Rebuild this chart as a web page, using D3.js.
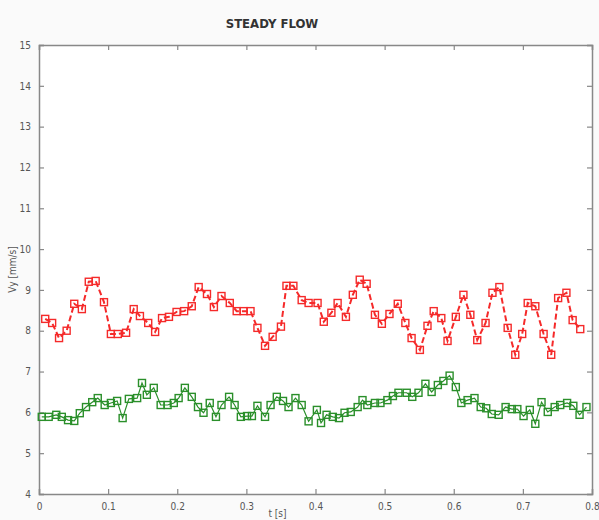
<!DOCTYPE html>
<html>
<head>
<meta charset="utf-8">
<script src="https://cdn.jsdelivr.net/npm/d3@7"></script>
<style>
  body { margin: 0; background: #fafafa; }
  svg { display: block; }
  .tick text { font-family: "Liberation Sans Narrow", "DejaVu Sans Condensed", sans-serif; font-size: 10px; fill: #555; }
</style>
</head>
<body>
<div id="chart"></div>
<script>
const xTicks = [0, 0.1, 0.2, 0.3, 0.4, 0.5, 0.6, 0.7, 0.8];
const yTicks = [4, 5, 6, 7, 8, 9, 10, 11, 12, 13, 14, 15];

// red series (dashed)
const redT = [0.009, 0.019, 0.029, 0.040, 0.051, 0.062, 0.072, 0.082, 0.094, 0.104, 0.114, 0.126,
  0.137, 0.146, 0.158, 0.168, 0.178, 0.188, 0.199, 0.210, 0.221, 0.231, 0.243, 0.253,
  0.264, 0.276, 0.286, 0.296, 0.306, 0.316, 0.327, 0.338, 0.350, 0.358, 0.368, 0.380, 0.390,
  0.403, 0.412, 0.423, 0.432, 0.444, 0.454, 0.464, 0.474, 0.486, 0.496, 0.507, 0.519,
  0.530, 0.539, 0.551, 0.562, 0.571, 0.582, 0.591, 0.603, 0.614, 0.624, 0.634, 0.646,
  0.656, 0.666, 0.678, 0.689, 0.699, 0.707, 0.718, 0.730, 0.741, 0.751, 0.763, 0.772, 0.783];
const redV = [8.29, 8.19, 7.82, 8.0, 8.66, 8.53, 9.2, 9.22, 8.7, 7.92, 7.92, 7.95,
  8.53, 8.36, 8.19, 7.97, 8.31, 8.34, 8.46, 8.48, 8.6, 9.07, 8.9, 8.58,
  8.85, 8.68, 8.48, 8.48, 8.48, 8.07, 7.63, 7.85, 8.1, 9.1, 9.1, 8.75, 8.68,
  8.68, 8.22, 8.44, 8.68, 8.34, 8.88, 9.25, 9.15, 8.39, 8.17, 8.41, 8.66,
  8.19, 7.82, 7.53, 8.12, 8.48, 8.31, 7.75, 8.34, 8.88, 8.39, 7.77, 8.19,
  8.93, 9.07, 8.07, 7.41, 7.92, 8.68, 8.6, 7.92, 7.41, 8.8, 8.93, 8.26, 8.04];

// green series (solid)
const greenT = [0.004, 0.014, 0.025, 0.033, 0.042, 0.051, 0.059, 0.068, 0.077, 0.085, 0.095, 0.104,
  0.113, 0.121, 0.130, 0.142, 0.149, 0.156, 0.166, 0.176, 0.186, 0.195, 0.202, 0.211,
  0.221, 0.230, 0.238, 0.247, 0.256, 0.264, 0.275, 0.283, 0.292, 0.301, 0.308, 0.316,
  0.327, 0.335, 0.344, 0.353, 0.361, 0.371, 0.380, 0.390, 0.402, 0.408, 0.416, 0.425,
  0.434, 0.442, 0.451, 0.461, 0.468, 0.475, 0.486, 0.494, 0.504, 0.512, 0.520, 0.532,
  0.540, 0.549, 0.559, 0.568, 0.577, 0.585, 0.594, 0.603, 0.611, 0.620, 0.630, 0.639,
  0.647, 0.655, 0.665, 0.675, 0.684, 0.692, 0.701, 0.710, 0.718, 0.727, 0.736, 0.746,
  0.754, 0.764, 0.773, 0.782, 0.792];
const greenV = [5.89, 5.89, 5.94, 5.89, 5.81, 5.79, 5.98, 6.13, 6.25, 6.35, 6.18, 6.23,
  6.28, 5.86, 6.33, 6.35, 6.72, 6.43, 6.6, 6.18, 6.18, 6.23, 6.35, 6.6,
  6.38, 6.13, 5.99, 6.23, 5.89, 6.18, 6.38, 6.18, 5.89, 5.91, 5.91, 6.16,
  5.89, 6.18, 6.38, 6.28, 6.13, 6.35, 6.18, 5.78, 6.06, 5.74, 5.94, 5.89,
  5.86, 5.99, 6.01, 6.13, 6.3, 6.18, 6.23, 6.23, 6.3, 6.4, 6.48, 6.48,
  6.38, 6.48, 6.7, 6.5, 6.67, 6.77, 6.9, 6.62, 6.23, 6.3, 6.35, 6.13,
  6.1, 5.96, 5.94, 6.13, 6.08, 6.08, 5.91, 6.06, 5.72, 6.25, 6.01, 6.13,
  6.18, 6.23, 6.16, 5.94, 6.13];

const width = 599, height = 520;
const margin = { top: 45, right: 7, bottom: 26, left: 39 };
const w = width - margin.left - margin.right;
const h = height - margin.top - margin.bottom;
const font = '"Liberation Sans Narrow", "DejaVu Sans Condensed", sans-serif';

const svg = d3.select('#chart').append('svg')
    .attr('width', width)
    .attr('height', height);

const g = svg.append('g')
    .attr('transform', `translate(${margin.left},${margin.top})`);

const x = d3.scaleLinear().domain([0, 0.8]).range([0, w]);
const y = d3.scaleLinear().domain([4, 15]).range([h, 0]);

g.append('rect').attr('width', w).attr('height', h).attr('fill', '#fff');

// axes, matlab style: ticks inward on all four sides
const axisStyle = sel => {
    sel.select('.domain').attr('stroke', '#888').attr('stroke-width', 1.5);
    sel.selectAll('.tick line').attr('stroke', '#888').attr('stroke-width', 1.2);
};
g.append('g').attr('transform', `translate(0,${h})`)
    .call(d3.axisBottom(x).tickValues(xTicks).tickSize(-5).tickPadding(9).tickFormat(d3.format('')))
    .call(axisStyle);
g.append('g')
    .call(d3.axisTop(x).tickValues(xTicks).tickSize(-5).tickFormat(''))
    .call(axisStyle);
g.append('g')
    .call(d3.axisLeft(y).tickValues(yTicks).tickSize(-5).tickPadding(8))
    .call(axisStyle);
g.append('g').attr('transform', `translate(${w},0)`)
    .call(d3.axisRight(y).tickValues(yTicks).tickSize(-5).tickFormat(''))
    .call(axisStyle);

const series = [
    { t: redT, v: redV, color: '#f52a2a', dash: '6,3', lw: 2 },
    { t: greenT, v: greenV, color: '#2a8f2a', dash: null, lw: 1.2 }
];

const line = d3.line().x(d => x(d[0])).y(d => y(d[1]));

series.forEach(s => {
    const pts = s.t.map((t, i) => [t, s.v[i]]);
    g.append('path')
        .datum(pts)
        .attr('fill', 'none')
        .attr('stroke', s.color)
        .attr('stroke-width', s.lw)
        .attr('stroke-dasharray', s.dash)
        .attr('d', line);
    g.append('g').selectAll('rect')
        .data(pts)
        .join('rect')
        .attr('x', d => x(d[0]) - 3.5)
        .attr('y', d => y(d[1]) - 3.5)
        .attr('width', 7)
        .attr('height', 7)
        .attr('fill', 'none')
        .attr('stroke', s.color)
        .attr('stroke-width', 1.4);
});

svg.append('text')
    .attr('x', 272)
    .attr('y', 28)
    .attr('text-anchor', 'middle')
    .style('font-family', font)
    .style('font-weight', 'bold')
    .style('font-size', '13px')
    .attr('fill', '#333')
    .text('STEADY FLOW');

svg.append('text')
    .attr('transform', `translate(16,${margin.top + y(9.5)}) rotate(-90)`)
    .attr('text-anchor', 'middle')
    .style('font-family', font)
    .style('font-size', '10px')
    .attr('fill', '#555')
    .text('Vy [mm/s]');

svg.append('text')
    .attr('x', margin.left + x(0.345))
    .attr('y', 517)
    .attr('text-anchor', 'middle')
    .style('font-family', font)
    .style('font-size', '10px')
    .attr('fill', '#555')
    .text('t [s]');
</script>
</body>
</html>
